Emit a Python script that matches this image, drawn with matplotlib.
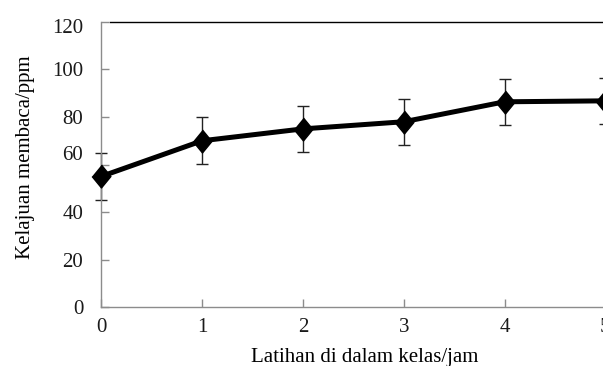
import numpy as np
from matplotlib import pyplot as plt
from matplotlib.transforms import ScaledTranslation

# data
jam = [0, 1, 2, 3, 4, 5]
kelajuan = [55, 70, 75, 78, 86.4, 86.8]
ralat = [10, 9.9, 9.7, 9.7, 9.8, 9.8]
y_ticks = [0, 20, 40, 60, 80, 100, 120]
x_ticks = [0, 1, 2, 3, 4, 5]

plt.rcParams['font.family'] = ['Liberation Serif', 'DejaVu Serif']
plt.rcParams['font.size'] = 15

fig = plt.figure(figsize=(6.03, 3.66), dpi=100)
ax = fig.add_axes([0.168, 0.161, 0.836, 0.779])

# diamond a bit taller than wide
diamond = [(0, 1), (0.82, 0), (0, -1), (-0.82, 0)]

ax.errorbar(jam, kelajuan, yerr=ralat, fmt='none', ecolor='#222222',
            elinewidth=1.0, capsize=4.3, capthick=1.0, zorder=2, clip_on=False)
ax.plot(jam, kelajuan, color='black', lw=3.6, marker=diamond, markersize=16.5,
        markerfacecolor='black', markeredgecolor='black', zorder=3, clip_on=False)

ax.set_xlim(0, 5)
ax.set_ylim(0, 120)
ax.set_xticks(x_ticks)
ax.set_yticks(y_ticks)

gray = '#8c8c8c'
for s in ['left', 'bottom']:
    ax.spines[s].set_color(gray)
    ax.spines[s].set_linewidth(1.0)
ax.spines['right'].set_visible(False)
ax.spines['top'].set_visible(False)
# top border line starts a little right of the y axis
ax.plot([0.017, 1.0], [1, 1], transform=ax.transAxes, color='black', lw=1.0, clip_on=False)

ax.tick_params(axis='both', direction='in', length=6, width=1.0, color=gray, labelcolor='#1a1a1a')
ax.tick_params(axis='x', pad=8)
ax.tick_params(axis='y', pad=13)

# some y labels sit off their ticks in the original
shifts = {'60': 12, '120': -4}
for lbl in ax.get_yticklabels():
    if lbl.get_text() in shifts:
        dy = shifts[lbl.get_text()] / 100
        lbl.set_transform(lbl.get_transform() + ScaledTranslation(0, dy, fig.dpi_scale_trans))

ax.set_xlabel('Latihan di dalam kelas/jam')
ax.xaxis.set_label_coords(0.522, -0.143)
ax.set_ylabel('Kelajuan membaca/ppm', labelpad=12)
ax.yaxis.label.set_y(0.526)

plt.savefig('out.png', dpi=100)
